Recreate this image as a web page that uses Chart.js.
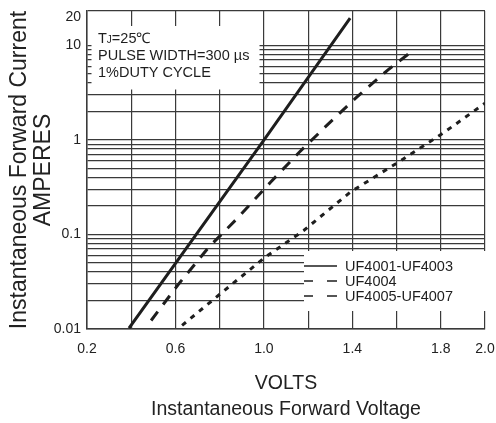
<!DOCTYPE html>
<html><head><meta charset="utf-8">
<script src="https://cdn.jsdelivr.net/npm/chart.js@4.4.1/dist/chart.umd.min.js"></script>
<style>html,body{margin:0;padding:0;background:#fff;}canvas{display:block;}</style>
</head><body>
<canvas id="c" width="496" height="423"></canvas>
<script>
const seriesNames = ['UF4001-UF4003', 'UF4004', 'UF4005-UF4007'];
const voltsA = [0.39, 1.0, 1.39];
const ampsA  = [0.0102, 0.99, 19.3];
const voltsB = [0.49, 0.61, 0.75, 0.88, 1.03, 1.16, 1.30, 1.42, 1.56, 1.665];
const ampsB  = [0.0123, 0.029, 0.073, 0.148, 0.356, 0.74, 1.54, 2.83, 5.46, 8.46];
const voltsC = [0.63, 0.86, 1.005, 1.18, 1.39, 1.60, 1.81, 2.0];
const ampsC  = [0.0109, 0.0303, 0.0572, 0.110, 0.279, 0.565, 1.175, 2.44];

const xTickValues = [0.2, 0.4, 0.6, 0.8, 1.0, 1.2, 1.4, 1.6, 1.8, 2.0];
const xTickLabels = ['0.2', '', '0.6', '', '1.0', '', '1.4', '', '1.8', '2.0'];
const yTickValues = [0.01, 0.02, 0.03, 0.04, 0.05, 0.06, 0.07, 0.08, 0.09,
                     0.1, 0.2, 0.3, 0.4, 0.5, 0.6, 0.7, 0.8, 0.9,
                     1, 2, 3, 4, 5, 6, 7, 8, 9, 10, 20, 23];
const yLabelValues = [0.01, 0.1, 1, 10, 20];
const yLabelTexts  = ['0.01', '0.1', '1', '10', '20'];
const xTitle = ['VOLTS', 'Instantaneous Forward Voltage'];
const yTitle = ['Instantaneous Forward Current', 'AMPERES'];
const noteLines = ['PULSE WIDTH=300 \u00b5s', '1%DUTY CYCLE'];

const FONT = '"Liberation Sans", Arial, Helvetica, sans-serif';
const INK = '#1e1e1e';
const GRID = '#3a3a3a';

function pts(v, a) { return v.map((x, i) => ({ x: x, y: a[i] })); }

const overlay = {
  id: 'overlay',
  beforeDatasetsDraw(chart) {
    const ctx = chart.ctx;
    ctx.save();
    ctx.fillStyle = '#fff';
    ctx.fillRect(91.5, 26, 168, 63.5);
    ctx.fillRect(304, 251, 184, 60);
    ctx.restore();
  },
  afterDatasetsDraw(chart) {
    const ctx = chart.ctx;
    ctx.save();
    ctx.fillStyle = INK;
    ctx.textBaseline = 'alphabetic';
    ctx.textAlign = 'left';
    ctx.font = '14.5px ' + FONT;
    let x = 98, base = 43;
    ctx.fillText('T', x, base);
    x += ctx.measureText('T').width;
    ctx.font = '10px ' + FONT;
    ctx.fillText('J', x, base);
    x += ctx.measureText('J').width;
    ctx.font = '14.5px ' + FONT;
    ctx.fillText('=25\u2103', x, base);
    ctx.fillText(noteLines[0], 98, 60);
    ctx.fillText(noteLines[1], 98, 77);

    const rows = [266, 281, 296];
    ctx.strokeStyle = INK;
    ctx.lineWidth = 1.3;
    rows.forEach((y, i) => {
      ctx.beginPath();
      if (i === 0) {
        ctx.moveTo(304, y); ctx.lineTo(337, y);
      } else {
        ctx.moveTo(304, y); ctx.lineTo(313, y);
        ctx.moveTo(327, y); ctx.lineTo(337, y);
      }
      ctx.stroke();
      ctx.textBaseline = 'middle';
      ctx.font = '14.5px ' + FONT;
      ctx.fillText(seriesNames[i], 345, y + 1);
    });
    ctx.restore();
  }
};

new Chart(document.getElementById('c'), {
  type: 'line',
  data: {
    datasets: [
      { label: seriesNames[0], data: pts(voltsA, ampsA), borderColor: INK, borderWidth: 3, pointRadius: 0, tension: 0 },
      { label: seriesNames[1], data: pts(voltsB, ampsB), borderColor: INK, borderWidth: 3, borderDash: [11, 9], pointRadius: 0, tension: 0 },
      { label: seriesNames[2], data: pts(voltsC, ampsC), borderColor: INK, borderWidth: 3, borderDash: [5, 6], pointRadius: 0, tension: 0 }
    ]
  },
  options: {
    responsive: false,
    animation: false,
    devicePixelRatio: 1,
    layout: { padding: { left: 0, right: 11, top: 11, bottom: 0 } },
    plugins: { legend: { display: false }, tooltip: { enabled: false } },
    scales: {
      x: {
        type: 'linear', min: 0.2, max: 2.0,
        afterBuildTicks: s => { s.ticks = xTickValues.map(v => ({ value: v })); },
        afterFit: s => { s.height = 94; s.paddingLeft = 0; s.paddingRight = 0; },
        ticks: { autoSkip: false, maxRotation: 0, padding: 12, color: '#222',
                 font: { family: FONT, size: 14 },
                 callback: (v, i) => xTickLabels[i] },
        grid: { color: GRID, lineWidth: 1.2, drawTicks: false },
        border: { color: GRID, width: 1.5 },
        title: { display: true, text: xTitle, color: '#222',
                 font: { family: FONT, size: 19.5, lineHeight: '26px' }, padding: 0 }
      },
      y: {
        type: 'logarithmic', min: 0.01, max: 23,
        afterBuildTicks: s => { s.ticks = yTickValues.map(v => ({ value: v })); },
        afterFit: s => { s.width = 87; s.paddingTop = 0; s.paddingBottom = 0; },
        ticks: { autoSkip: false, padding: 6, color: '#222',
                 font: { family: FONT, size: 14 },
                 callback: v => { const i = yLabelValues.indexOf(v); return i >= 0 ? yLabelTexts[i] : ''; } },
        grid: { color: c => (c.tick && c.tick.value === 20) ? 'rgba(0,0,0,0)' : GRID,
                lineWidth: 1.2, drawTicks: false },
        border: { color: GRID, width: 1.5 },
        title: { display: true, text: yTitle, color: '#222',
                 font: { family: FONT, size: 23, lineHeight: '24px' }, padding: { top: 8, bottom: 0 } }
      }
    }
  },
  plugins: [overlay]
});
</script>
</body></html>
